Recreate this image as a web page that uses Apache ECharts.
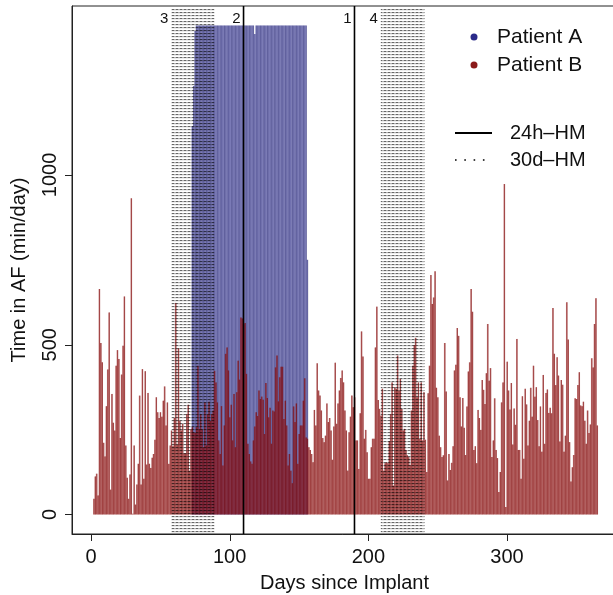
<!DOCTYPE html>
<html><head><meta charset="utf-8">
<script src="https://cdn.jsdelivr.net/npm/echarts@6/dist/echarts.min.js"></script>
<style>html,body{margin:0;padding:0;background:#fff}#c{width:613px;height:595px}</style>
</head><body><div id="c"></div>
<script>
// ---------------- data ----------------
const patientBStartDay = 2;
const patientB = [
46,112,120,56,664,505,448,211,171,319,
427,595,73,355,270,247,438,484,458,225,
412,497,642,203,108,46,118,931,2,203,
29,88,149,350,88,428,105,422,147,358,
149,137,167,178,220,345,301,284,301,288,
335,377,262,330,149,203,247,201,284,623,
205,490,276,247,267,180,180,296,323,129,
252,257,243,240,257,438,252,296,252,198,
330,203,296,332,275,296,306,423,389,330,
218,178,319,144,262,473,492,424,286,323,
218,355,198,360,453,397,580,577,560,564,
414,208,178,156,149,218,259,301,290,365,
340,347,338,237,387,343,286,314,208,306,
303,433,468,333,404,435,435,281,335,262,
144,178,129,92,
318,272,327,149,237,262,262,335,401,227,
223,198,190,178,154,308,262,445,365,350,
306,225,213,232,327,272,284,247,161,259,
447,267,327,365,402,424,389,306,247,129,
242,288,350,316,345,218,218,134,298,539,
465,223,249,183,105,105,198,223,223,492,
612,337,311,291,370,129,151,154,151,216,
296,389,85,
375,370,468,365,399,311,247,252,190,174,
169,146,306,438,499,520,345,389,223,389,
218,360,220,125,357,438,705,620,639,716,
373,345,232,198,169,174,505,362,100,178,
131,152,201,424,441,549,526,345,259,343,
255,175,318,421,448,664,597,190,201,151,
308,284,249,396,367,325,416,561,394,431,
169,218,342,190,166,66,
125,330,389,973,22,450,365,309,387,206,
312,264,517,190,190,105,348,164,370,324,
203,276,373,288,438,347,375,278,201,318,
185,411,208,358,368,299,314,298,608,473,
381,463,409,215,396,382,185,232,625,515,
213,97,139,175,342,340,381,419,321,319,
332,276,208,306,240,265,460,433,561,637,
262
];
const patientAStartDay = 73;
const patientA = [
1144,1262,1424,1440,1440,1440,1440,1440,1440,1440,
1440,1440,1440,1440,1440,1440,1440,1440,1440,1440,
1440,1440,1440,1440,1440,1440,1440,1440,1440,1440,
1440,1440,1440,1440,1440,1440,1440,1440,1440,1440,
1440,1440,1440,1440,1440,1415,1440,1440,1440,1440,
1440,1440,1440,1440,1440,1440,1440,1440,1440,1440,
1440,1440,1440,1440,1440,1440,1440,1440,1440,1440,
1440,1440,1440,1440,1440,1440,1440,1440,1440,1440,
1440,1440,1440,750
];
const hm24Days = [110, 190];
const hm24Labels = ['2', '1'];
const hm30Ranges = [[58, 89], [209, 240.5]];
const hm30Labels = ['3', '4'];
const xTicks = [0, 100, 200, 300];
const yTicks = [0, 500, 1000];
const seriesNames = ['Patient A', 'Patient B'];
const markerNames = ['24h\u2013HM', '30d\u2013HM'];

// ---------------- chart ----------------
const FONT = '"Liberation Sans", Arial, Helvetica, sans-serif';
const FS = 20;
const TICK = 7;
const dataB = patientB.map((v, i) => [patientBStartDay + i, v]);
const dataA = patientA.map((v, i) => [patientAStartDay + i, v]);

function barRender(fill, stroke) {
  return function (params, api) {
    const d = api.value(0), v = api.value(1);
    const p0 = api.coord([d - 0.5, 0]);
    const p1 = api.coord([d + 0.5, v]);
    return { type: 'group', children: [
      { type: 'rect',
        shape: { x: p0[0], y: p1[1], width: p1[0] - p0[0], height: p0[1] - p1[1] },
        style: { fill: fill } },
      { type: 'line',
        shape: { x1: p1[0] - 0.3, y1: p1[1], x2: p1[0] - 0.3, y2: p0[1] },
        style: { stroke: stroke, lineWidth: 0.55 } }
    ] };
  };
}

const pat = document.createElement('canvas');
pat.width = 4; pat.height = 3;
const g = pat.getContext('2d');
g.fillStyle = 'rgba(0,0,0,0.6)'; g.fillRect(0, 0, 2, 1);
g.fillStyle = 'rgba(0,0,0,0.3)'; g.fillRect(2, 0, 2, 1);
g.fillStyle = 'rgba(0,0,0,0.07)'; g.fillRect(0, 1, 4, 1);

// tick marks: [axis, value]
const tickData = xTicks.map(v => ['x', v]).concat(yTicks.map(v => ['y', v]));

const chart = echarts.init(document.getElementById('c'), null, { renderer: 'canvas' });
chart.setOption({
  animation: false,
  backgroundColor: '#fff',
  grid: { left: 72, top: 6, width: 545, height: 528, outerBoundsMode: 'none', containLabel: false,
    show: true, borderColor: '#222', borderWidth: 1, backgroundColor: 'transparent' },
  xAxis: {
    type: 'value', min: -13.7, max: 379.3,
    name: 'Days since Implant', nameLocation: 'middle', nameGap: 39,
    nameTextStyle: { fontFamily: FONT, fontSize: FS, color: '#111' },
    axisLine: { show: true, onZero: false, lineStyle: { color: '#222', width: 1 } },
    splitLine: { show: false },
    axisTick: { show: false },
    axisLabel: { customValues: xTicks, fontFamily: FONT, fontSize: FS, color: '#111', margin: 13 }
  },
  yAxis: {
    type: 'value', min: -57.6, max: 1497.6,
    name: 'Time in AF (min/day)', nameLocation: 'middle', nameGap: 43, nameRotate: 90,
    nameTextStyle: { fontFamily: FONT, fontSize: FS, color: '#111' },
    axisLine: { show: true, onZero: false, lineStyle: { color: '#222', width: 1 } },
    splitLine: { show: false },
    axisTick: { show: false },
    axisLabel: { customValues: yTicks, rotate: 90, fontFamily: FONT, fontSize: FS, color: '#111', margin: 12,
      formatter: function (v) { return String(v); } }
  },
  series: [
    { type: 'custom', name: seriesNames[0], data: dataA, z: 2, clip: true,
      renderItem: barRender('rgba(55,55,155,0.56)', 'rgba(30,30,100,0.85)') },
    { type: 'custom', name: seriesNames[1], data: dataB, z: 3, clip: true,
      renderItem: barRender('rgba(145,15,15,0.58)', 'rgba(120,0,0,0.9)') },
    { type: 'custom', name: 'hm30', data: hm30Ranges, z: 4,
      renderItem: function (params, api) {
        const cs = params.coordSys;
        const a = api.coord([api.value(0), 0])[0];
        const b = api.coord([api.value(1), 0])[0];
        return { type: 'group', children: [
          { type: 'rect', shape: { x: a, y: cs.y + 2, width: b - a, height: cs.height - 3 },
            style: { fill: { image: pat, repeat: 'repeat' } } },
          { type: 'text', x: a - 3, y: cs.y + 13,
            style: { text: hm30Labels[params.dataIndex], align: 'right', verticalAlign: 'middle', font: '15px ' + FONT, fill: '#111' } }
        ] };
      } },
    { type: 'custom', name: 'hm24', data: hm24Days.map(d => [d]), z: 5,
      renderItem: function (params, api) {
        const cs = params.coordSys;
        const x = api.coord([api.value(0), 0])[0];
        return { type: 'group', children: [
          { type: 'line', shape: { x1: x, y1: cs.y, x2: x, y2: cs.y + cs.height },
            style: { stroke: '#000', lineWidth: 1.6 } },
          { type: 'text', x: x - 3, y: cs.y + 13,
            style: { text: hm24Labels[params.dataIndex], align: 'right', verticalAlign: 'middle', font: '15px ' + FONT, fill: '#111' } }
        ] };
      } },
    { type: 'custom', name: 'ticks', data: tickData.map((t, i) => [i]), z: 6, clip: false, silent: true,
      renderItem: function (params, api) {
        const cs = params.coordSys;
        const t = tickData[params.dataIndex];
        if (t[0] === 'x') {
          const x = Math.round(api.coord([t[1], 0])[0]) + 0.5;
          const yb = cs.y + cs.height;
          return { type: 'line', shape: { x1: x, y1: yb, x2: x, y2: yb + TICK }, style: { stroke: '#222', lineWidth: 1 } };
        }
        const y = Math.round(api.coord([0, t[1]])[1]) + 0.5;
        return { type: 'line', shape: { x1: cs.x - TICK, y1: y, x2: cs.x, y2: y }, style: { stroke: '#222', lineWidth: 1 } };
      } }
  ],
  graphic: [
    { type: 'circle', shape: { cx: 474, cy: 37, r: 3.5 }, style: { fill: '#2a2a8a' } },
    { type: 'text', x: 497, y: 37, style: { text: seriesNames[0], verticalAlign: 'middle', font: '21px ' + FONT, fill: '#111' } },
    { type: 'circle', shape: { cx: 474, cy: 65, r: 3.5 }, style: { fill: '#8b1a1a' } },
    { type: 'text', x: 497, y: 65, style: { text: seriesNames[1], verticalAlign: 'middle', font: '21px ' + FONT, fill: '#111' } },
    { type: 'line', shape: { x1: 455, y1: 133, x2: 492, y2: 133 }, style: { stroke: '#000', lineWidth: 2 } },
    { type: 'text', x: 510, y: 133, style: { text: markerNames[0], verticalAlign: 'middle', font: FS + 'px ' + FONT, fill: '#111' } },
    { type: 'line', shape: { x1: 455, y1: 160, x2: 490, y2: 160 }, style: { stroke: '#000', lineWidth: 1.6, lineDash: [1.6, 7.7] } },
    { type: 'text', x: 510, y: 160, style: { text: markerNames[1], verticalAlign: 'middle', font: FS + 'px ' + FONT, fill: '#111' } }
  ]
});
</script>
</body></html>
